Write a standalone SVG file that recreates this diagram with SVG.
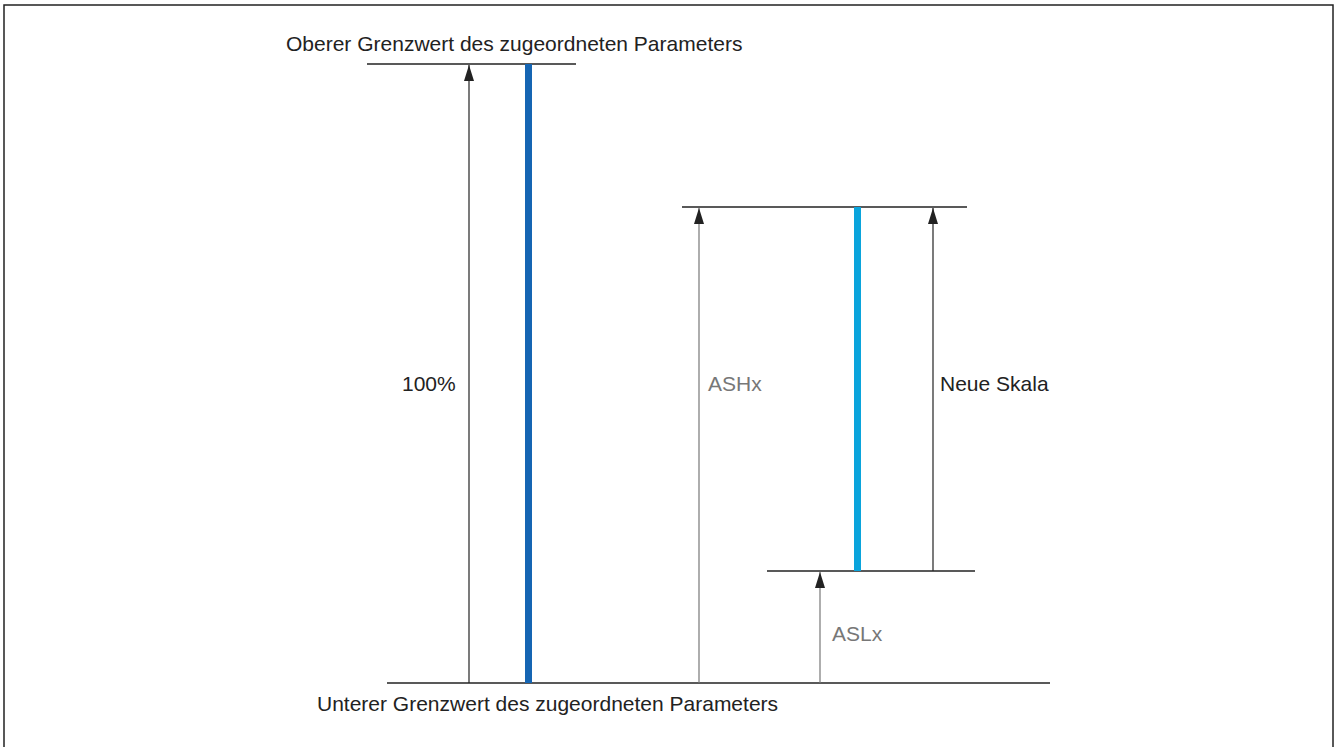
<svg xmlns="http://www.w3.org/2000/svg" width="1336" height="747" viewBox="0 0 1336 747">
<style>
.t{font-family:"Liberation Sans",Arial,sans-serif;font-size:21px;fill:#222}
.g{fill:#777}
.ln{stroke:#222;stroke-width:1.6;fill:none}
.ar{stroke:#222;stroke-width:1.2;fill:none}
.arg{stroke:#777;stroke-width:1.2;fill:none}
</style>
<defs>
<marker id="ah" viewBox="0 0 16 10" refX="16" refY="5" markerWidth="16" markerHeight="10" markerUnits="userSpaceOnUse" orient="auto">
<path d="M0,0 L16,5 L0,10 Z" fill="#222"/>
</marker>
</defs>
<rect x="4" y="5" width="1329" height="760" fill="#fff" stroke="#222" stroke-width="1.5"/>
<g id="levels">
<line class="ln" x1="367" y1="64" x2="576" y2="64"/>
<line class="ln" x1="387" y1="683" x2="1050" y2="683"/>
<line class="ln" x1="682" y1="207" x2="967" y2="207"/>
<line class="ln" x1="767" y1="571" x2="975" y2="571"/>
</g>
<g id="bars">
<rect x="525" y="64" width="7" height="619" fill="#1565b3"/>
<rect x="854" y="207" width="7" height="364" fill="#0aa4dc"/>
</g>
<g id="connectors">
<line class="ar" x1="469" y1="683" x2="469" y2="65" marker-end="url(#ah)"/>
<line class="arg" x1="699" y1="683" x2="699" y2="208" marker-end="url(#ah)"/>
<line class="ar" x1="933" y1="571" x2="933" y2="208" marker-end="url(#ah)"/>
<line class="arg" x1="820" y1="683" x2="820" y2="572" marker-end="url(#ah)"/>
</g>
<g id="labels">
<text class="t" x="286" y="51">Oberer Grenzwert des zugeordneten Parameters</text>
<text class="t" x="317" y="711">Unterer Grenzwert des zugeordneten Parameters</text>
<text class="t" x="402" y="391">100%</text>
<text class="t g" x="708" y="391">ASHx</text>
<text class="t" x="940" y="391">Neue Skala</text>
<text class="t g" x="832" y="641">ASLx</text>
</g>
</svg>
